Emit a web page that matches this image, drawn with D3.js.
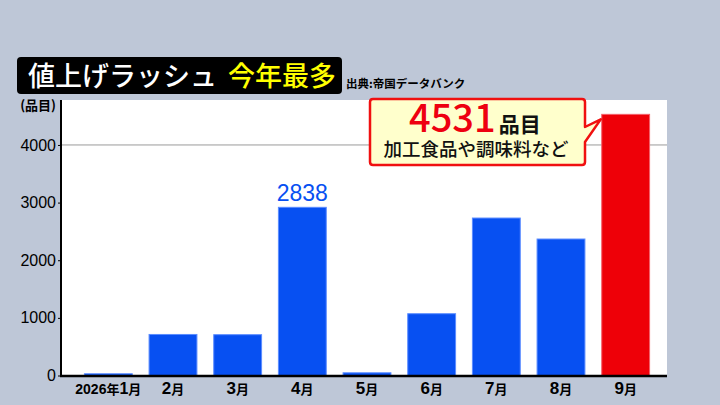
<!DOCTYPE html>
<html>
<head>
<meta charset="utf-8">
<script src="https://cdn.jsdelivr.net/npm/d3@7"></script>
<style>
  html, body { margin: 0; padding: 0; background: #bec7d7; }
  svg { display: block; }
  text { font-family: "Noto Sans CJK JP", "Liberation Sans", sans-serif; }
</style>
</head>
<body>
<svg id="chart" width="720" height="405"></svg>
<script>
// data
const months = ["2026年1月", "2月", "3月", "4月", "5月", "6月", "7月", "8月", "9月"];
const items = [30, 712, 708, 2918, 47, 1072, 2732, 2368, 4531];
const yTicks = [0, 1000, 2000, 3000, 4000];
const gridTicks = [4000];
const highlightMonth = "9月";
const aprilLabel = ["4月", "2838"];
const calloutNumber = "4531";

function draw() {
    const svg = d3.select("#chart");
    const plot = { left: 61, right: 667, top: 100, bottom: 375.5 };

    const x = d3.scaleBand().domain(months).range([76, 658]).paddingInner(0.26).paddingOuter(0.13);
    const y = d3.scaleLinear().domain([0, 4780]).range([plot.bottom, plot.top]);

    // white plot area
    svg.append("rect").attr("x", plot.left).attr("y", plot.top)
        .attr("width", plot.right - plot.left).attr("height", plot.bottom - plot.top)
        .attr("fill", "#fff");

    // gridline at 4000
    svg.append("g").selectAll("line").data(gridTicks).enter().append("line")
        .attr("x1", plot.left).attr("x2", plot.right)
        .attr("y1", d => y(d)).attr("y2", d => y(d))
        .attr("stroke", "#9a9a9a").attr("stroke-width", 1);

    // bars
    svg.append("g").selectAll("rect").data(months).enter().append("rect")
        .attr("x", d => x(d)).attr("width", x.bandwidth())
        .attr("y", (d, i) => y(items[i]))
        .attr("height", (d, i) => y(0) - y(items[i]))
        .attr("fill", d => d === highlightMonth ? "#ee0008" : "#0750f2")
        .attr("stroke", d => d === highlightMonth ? "#f4606a" : "#5b8cff")
        .attr("stroke-width", 1);

    // y axis
    const yAxis = svg.append("g").attr("transform", "translate(" + plot.left + ",0)")
        .call(d3.axisLeft(y).tickValues(yTicks).tickSize(3).tickPadding(2).tickFormat(d3.format("d")));
    yAxis.select(".domain").remove();
    yAxis.selectAll("line").attr("stroke", "#000");
    yAxis.selectAll("text").attr("fill", "#000").style("font-family", "'Liberation Sans', sans-serif")
        .style("font-size", "16px");
    svg.append("line").attr("x1", plot.left).attr("x2", plot.left)
        .attr("y1", plot.top).attr("y2", plot.bottom + 1)
        .attr("stroke", "#000").attr("stroke-width", 2);

    // x baseline
    svg.append("line").attr("x1", plot.left - 1).attr("x2", plot.right)
        .attr("y1", plot.bottom + 0.5).attr("y2", plot.bottom + 0.5)
        .attr("stroke", "#000").attr("stroke-width", 2.5);

    // x labels
    const xl = svg.append("g").selectAll("text").data(months).enter().append("text")
        .attr("x", d => x(d) + x.bandwidth() / 2).attr("y", 394)
        .attr("text-anchor", "middle").attr("fill", "#000").attr("font-weight", "bold");
    xl.each(function(d, i) {
        const t = d3.select(this);
        if (i === 0) {
            t.append("tspan").style("font-size", "14px").style("font-family", "'Liberation Sans', sans-serif").text("2026");
            t.append("tspan").style("font-size", "13px").text("年");
            t.append("tspan").style("font-size", "16px").style("font-family", "'Liberation Sans', sans-serif").text("1");
            t.append("tspan").style("font-size", "13px").text("月");
        } else {
            t.append("tspan").style("font-size", "17px").style("font-family", "'Liberation Sans', sans-serif").text(d.replace("月", ""));
            t.append("tspan").style("font-size", "13px").text("月");
        }
    });

    // unit label
    svg.append("text").attr("x", 56).attr("y", 110).attr("text-anchor", "end")
        .attr("font-size", "13px").attr("font-weight", "bold").attr("fill", "#000").text("(品目)");

    // April value label
    svg.append("text").attr("x", x(aprilLabel[0]) + x.bandwidth() / 2).attr("y", 201)
        .attr("text-anchor", "middle").attr("fill", "#0750f2")
        .style("font-family", "'Liberation Sans', sans-serif").style("font-size", "23px")
        .text(aprilLabel[1]);

    // title box
    svg.append("rect").attr("x", 17).attr("y", 57).attr("width", 325).attr("height", 37)
        .attr("rx", 4).attr("fill", "#000");
    const title = svg.append("text").attr("x", 28).attr("y", 86).attr("font-size", "27px").attr("font-weight", "500");
    title.append("tspan").attr("fill", "#fff").text("値上げラッシュ");
    title.append("tspan").attr("fill", "#ffff00").attr("dx", 11).text("今年最多");
    svg.append("text").attr("x", 346).attr("y", 88).attr("font-size", "11.5px").attr("font-weight", "bold")
        .attr("fill", "#000").text("出典:帝国データバンク");

    // callout
    const tipX = x(highlightMonth) - 1;
    const tipY = y(items[8]) + 5;
    svg.append("path")
        .attr("d", "M373,99 H582 Q585,99 585,102 V127 L" + tipX + "," + tipY + " L585,142 V162 Q585,165 582,165 H373 Q370,165 370,162 V102 Q370,99 373,99 Z")
        .attr("fill", "#ffffcc").attr("stroke", "#f01010").attr("stroke-width", 2.5)
        .attr("stroke-linejoin", "round");
    const big = svg.append("text").attr("x", 409).attr("y", 132);
    big.append("tspan").attr("fill", "#ee0010")
        .attr("font-weight", "500").style("font-size", "38px").text(calloutNumber);
    big.append("tspan").attr("fill", "#111").attr("dx", 3).style("font-size", "21px").attr("font-weight", "bold").text("品目");
    svg.append("text").attr("x", 476).attr("y", 156).attr("text-anchor", "middle")
        .attr("font-size", "18.5px").attr("font-weight", "500").attr("fill", "#111").text("加工食品や調味料など");
}

draw();
</script>
</body>
</html>
